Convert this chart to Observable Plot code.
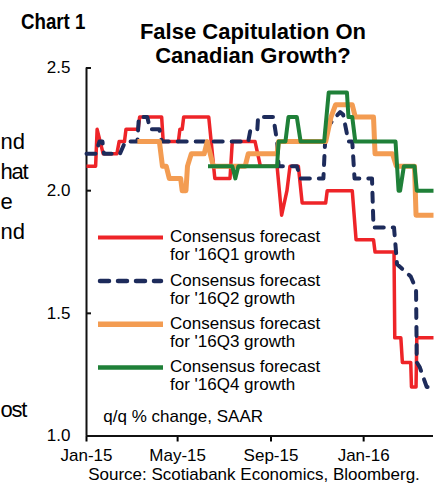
<!DOCTYPE html>
<html>
<head>
<meta charset="utf-8">
<script src="https://cdn.jsdelivr.net/npm/d3@7"></script>
<script src="https://cdn.jsdelivr.net/npm/@observablehq/plot@0.6"></script>
<style>
  body { margin: 0; background: #fff; }
  #wrap { position: relative; width: 442px; height: 484px; overflow: hidden;
          font-family: "Liberation Sans", Arial, sans-serif; color: #000; background: #fff; }
  .t { position: absolute; white-space: nowrap; line-height: 1; }
  #plot { position: absolute; left: 0; top: 0; }
</style>
</head>
<body>
<div id="wrap">
  <div id="plot"></div>
</div>
<script>
// ---- data ----
const q1 = [
  ["2015-01-01",2.1],["2015-01-13",2.1],["2015-01-15",2.25],["2015-01-23",2.15],["2015-02-10",2.15],
  ["2015-02-13",2.2],["2015-02-20",2.2],["2015-02-22",2.25],["2015-03-10",2.25],["2015-03-12",2.3],
  ["2015-04-10",2.3],["2015-04-12",2.2],["2015-05-02",2.2],["2015-05-04",2.25],["2015-05-07",2.25],
  ["2015-05-09",2.3],["2015-06-11",2.3],["2015-06-19",2.05],["2015-07-09",2.05],["2015-07-12",2.2],
  ["2015-08-11",2.2],["2015-08-18",2.1],["2015-09-09",2.1],["2015-09-15",1.9],["2015-09-22",2.0],
  ["2015-09-26",2.1],["2015-10-07",2.1],["2015-10-12",1.95],["2015-11-12",1.95],["2015-11-14",2.0],
  ["2015-12-17",2.0],["2015-12-22",1.8],["2016-01-14",1.8],["2016-01-16",1.75],["2016-02-10",1.75],
  ["2016-02-11",1.4],["2016-02-19",1.4],["2016-02-21",1.3],["2016-03-03",1.3],["2016-03-04",1.2],
  ["2016-03-10",1.2],["2016-03-11",1.4],["2016-04-02",1.4]
];
const q2 = [
  ["2015-01-01",2.15],["2015-01-13",2.15],["2015-01-18",2.2],["2015-01-22",2.2],["2015-01-24",2.15],
  ["2015-02-14",2.15],["2015-02-21",2.2],["2015-03-09",2.2],["2015-03-11",2.3],["2015-03-22",2.3],
  ["2015-03-26",2.25],["2015-04-07",2.25],["2015-04-10",2.2],["2015-08-02",2.2],["2015-08-05",2.25],
  ["2015-08-14",2.25],["2015-08-15",2.3],["2015-09-04",2.3],["2015-09-09",2.2],["2015-09-11",2.1],
  ["2015-10-05",2.1],["2015-10-10",2.05],["2015-11-09",2.05],["2015-11-12",2.25],["2015-11-25",2.3],
  ["2015-12-01",2.32],["2015-12-05",2.31],["2015-12-12",2.2],["2015-12-17",2.2],["2015-12-20",2.05],
  ["2016-01-12",2.05],["2016-01-14",1.85],["2016-02-10",1.85],["2016-02-14",1.7],["2016-03-03",1.65],
  ["2016-03-10",1.6],["2016-03-11",1.3],["2016-03-15",1.28],["2016-03-24",1.2],["2016-04-02",1.2]
];
const q3 = [
  ["2015-03-09",2.2],["2015-04-07",2.2],["2015-04-11",2.1],["2015-04-16",2.1],["2015-04-20",2.05],
  ["2015-05-05",2.05],["2015-05-07",2.0],["2015-05-12",2.0],["2015-05-14",2.1],["2015-05-19",2.15],
  ["2015-06-05",2.15],["2015-06-09",2.2],["2015-06-17",2.1],["2015-07-29",2.1],["2015-08-02",2.15],
  ["2015-09-09",2.15],["2015-09-11",2.2],["2015-11-12",2.2],["2015-11-19",2.3],["2015-11-25",2.35],
  ["2015-12-17",2.35],["2015-12-21",2.3],["2016-01-14",2.3],["2016-01-16",2.15],["2016-02-08",2.15],
  ["2016-02-13",2.1],["2016-03-08",2.1],["2016-03-10",1.9],["2016-04-02",1.9]
];
const q4 = [
  ["2015-06-10",2.1],["2015-07-12",2.1],["2015-07-16",2.05],["2015-07-20",2.1],["2015-09-09",2.1],
  ["2015-09-11",2.2],["2015-09-20",2.2],["2015-09-24",2.3],["2015-10-05",2.3],["2015-10-10",2.2],
  ["2015-11-10",2.2],["2015-11-16",2.4],["2015-12-10",2.4],["2015-12-12",2.3],["2015-12-17",2.3],
  ["2015-12-21",2.2],["2016-02-12",2.2],["2016-02-16",2.0],["2016-02-18",2.0],["2016-02-23",2.1],
  ["2016-03-08",2.1],["2016-03-11",2.0],["2016-04-02",2.0]
];
const seriesNames = ["Consensus forecast\nfor '16Q1 growth","Consensus forecast\nfor '16Q2 growth",
                     "Consensus forecast\nfor '16Q3 growth","Consensus forecast\nfor '16Q4 growth"];
const xTickDates = ["2015-01-01","2015-05-01","2015-09-01","2016-01-01"];
const yTicks = [1.0, 1.5, 2.0, 2.5];
const xDomain = ["2015-01-01","2016-04-02"];
const titleLines = ["False Capitulation On","Canadian Growth?"];
const chartLabel = "Chart 1";
const unitsNote = "q/q % change, SAAR";
const sourceNote = "Source: Scotiabank Economics, Bloomberg.";
// visible fragments of the neighbouring column's text at the picture's left edge
const sideText = ["nd","hat","e","nd","ost"];

// ---- styles ----
const colors = ["#EE2428","#1D2B5B","#F39C52","#1F8038"];
const widths = [3.5, 4, 5, 4];
const dashes = [null, "9,9", null, null];

const W = 442, H = 484, mL = 86, mR = 9, mT = 67.5, mB = 48.5;
const parse = d3.utcParse("%Y-%m-%d");
const series = [q1, q2, q3, q4];

const lineMarks = series.map((s, i) => Plot.line(s, {
  x: d => parse(d[0]), y: d => d[1],
  stroke: colors[i], strokeWidth: widths[i],
  strokeDasharray: dashes[i] ?? undefined,
  strokeLinecap: dashes[i] ? "round" : "butt",
  strokeLinejoin: "round"
}));

const chart = Plot.plot({
  width: W, height: H,
  marginLeft: mL, marginRight: mR, marginTop: mT, marginBottom: mB,
  style: { fontFamily: "'Liberation Sans', Arial, sans-serif", fontSize: "17px", color: "#000", background: "transparent", overflow: "visible" },
  x: { type: "utc", domain: xDomain.map(parse) },
  y: { domain: [yTicks[0], yTicks[yTicks.length - 1]] },
  marks: [
    Plot.axisY({ ticks: yTicks, tickFormat: d3.format(".1f"), tickSize: 0, tickPadding: 16, label: null }),
    Plot.ruleY(yTicks, { insetRight: W - mL - mR - 5, strokeWidth: 2, stroke: "#111" }),
    Plot.axisX({ ticks: xTickDates.map(parse), tickFormat: d3.utcFormat("%b-%y"), tickSize: 6, tickPadding: 7.4, strokeWidth: 2, label: null }),
    Plot.ruleX([parse(xDomain[0])], { strokeWidth: 2, stroke: "#111" }),
    Plot.ruleY([yTicks[0]], { strokeWidth: 2, stroke: "#111" }),
    ...lineMarks
  ]
});
document.getElementById("plot").appendChild(chart);

// ---- text overlays ----
const wrap = document.getElementById("wrap");
function addText(txt, css) {
  const d = document.createElement("div");
  d.className = "t";
  d.textContent = txt;
  Object.assign(d.style, css);
  wrap.appendChild(d);
  return d;
}
// Chart label
addText(chartLabel, { left: "20.7px", top: "10.7px", fontSize: "22px", fontWeight: "bold", transform: "scaleX(0.85)", transformOrigin: "left top" });
// Title
const tt = addText("", { left: "53px", width: "400px", top: "19.7px", fontSize: "22px", fontWeight: "bold", textAlign: "center", lineHeight: "24px", whiteSpace: "pre" });
tt.textContent = titleLines.join("\n");
// Side column fragments
const sideBase = [150, 180, 210, 240, 418];
const sideSpacing = [0, -1.2, 0, 0, -1.2];
sideText.forEach((w, i) => addText(w, { left: "0.5px", top: (sideBase[i] - 0.8465 * 22) + "px", fontSize: "22px", letterSpacing: sideSpacing[i] + "px" }));
// Units note
addText(unitsNote, { left: "103.3px", top: (422.7 - 0.8465 * 17) + "px", fontSize: "17px" });
// Source
addText(sourceNote, { left: "54px", width: "400px", textAlign: "center", top: (481 - 12.89) + "px", fontSize: "17px", lineHeight: "14px" });

// Legend
const svgNS = "http://www.w3.org/2000/svg";
const leg = document.createElementNS(svgNS, "svg");
leg.setAttribute("width", W); leg.setAttribute("height", H);
leg.style.position = "absolute"; leg.style.left = "0"; leg.style.top = "0"; leg.style.pointerEvents = "none";
wrap.appendChild(leg);
seriesNames.forEach((name, i) => {
  const base = 243.3 + 43.3 * i;
  const ln = document.createElementNS(svgNS, "line");
  ln.setAttribute("x1", 98 + (dashes[i] ? 2 : 0)); ln.setAttribute("x2", 163 - (dashes[i] ? 2 : 0));
  ln.setAttribute("y1", base - 5.7); ln.setAttribute("y2", base - 5.7);
  ln.setAttribute("stroke", colors[i]); ln.setAttribute("stroke-width", widths[i] + 0.5);
  if (dashes[i]) { ln.setAttribute("stroke-dasharray", dashes[i]); ln.setAttribute("stroke-linecap", "round"); }
  leg.appendChild(ln);
  addText(name, { left: "170px", top: (base - 14.89) + "px", fontSize: "17px", lineHeight: "18px", whiteSpace: "pre" });
});
</script>
</body>
</html>
